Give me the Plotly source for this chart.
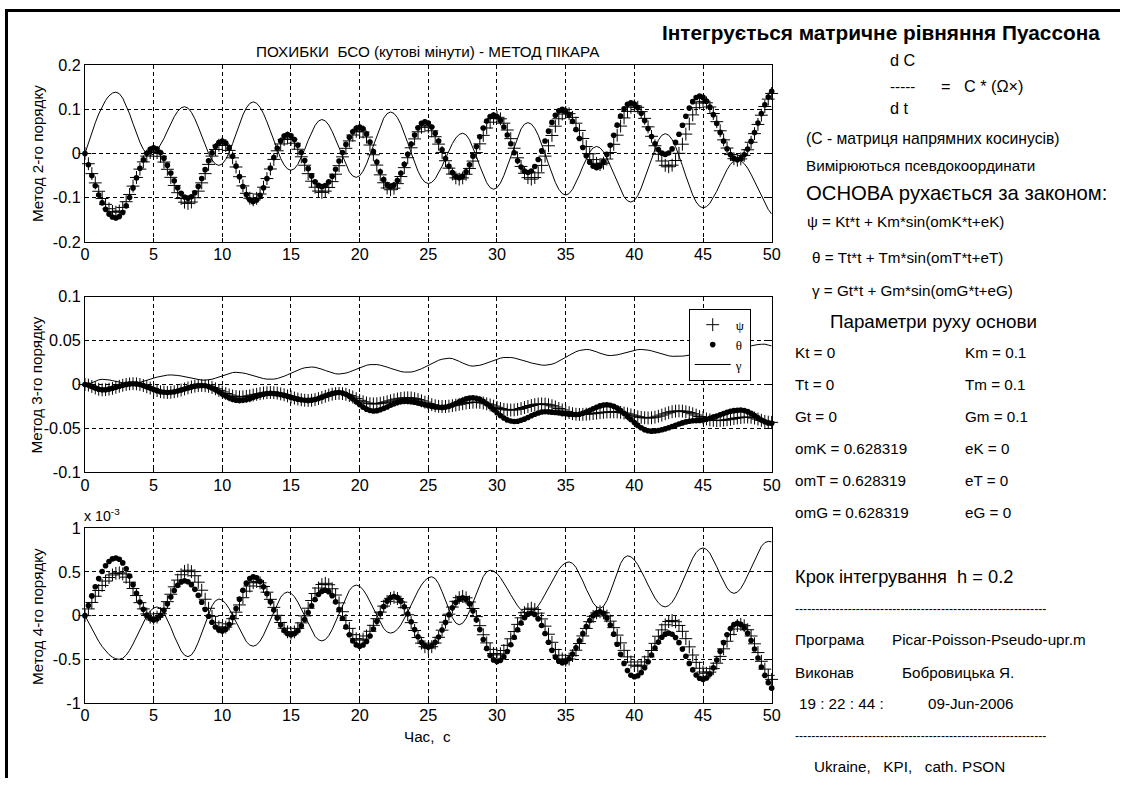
import plotly.graph_objects as go

W, H = 1129, 787

# The photographed page comes out slightly shrunk and shifted relative to the figure's own
# pixels (measured on earlier renders: window = A + B * figure_px).  Positions below are
# given in window pixels of the reference and converted back to figure pixels.
AX, BX = 4.0, 0.988
AY, BY = 8.7, 0.979

STEP = 0.25
T = [round(i * STEP, 2) for i in range(201)]

# ---------------- Data ----------------
TOP_PSI = [
    0, -0.0231, -0.0455, -0.0665, -0.0855, -0.1019, -0.1152, -0.125, -0.131, -0.133, -0.1302, -0.1221, -0.1091, -0.0927, -0.0738, -0.0542, -0.0353, -0.0189, -0.0059, 0.0022,
    0.005, 0.0022, -0.0062, -0.0193, -0.0357, -0.054, -0.0723, -0.0887, -0.1018, -0.1102, -0.113, -0.1098, -0.1002, -0.0852, -0.0664, -0.0455, -0.0246, -0.0058, 0.0092, 0.0188,
    0.022, 0.0182, 0.0071, -0.0098, -0.0305, -0.0525, -0.0733, -0.0901, -0.1012, -0.105, -0.1016, -0.0917, -0.0762, -0.0567, -0.035, -0.0133, 0.0062, 0.0217, 0.0316, 0.035,
    0.032, 0.0233, 0.0097, -0.0074, -0.0265, -0.0456, -0.0627, -0.0763, -0.085, -0.088, -0.0852, -0.0769, -0.0636, -0.0468, -0.0275, -0.0075, 0.0118, 0.0286, 0.0419, 0.0502,
    0.053, 0.0489, 0.0372, 0.0192, -0.0028, -0.0262, -0.0483, -0.0662, -0.078, -0.082, -0.0785, -0.0682, -0.0521, -0.032, -0.0095, 0.013, 0.0331, 0.0492, 0.0595, 0.063,
    0.0601, 0.0515, 0.0381, 0.0213, 0.0025, -0.0163, -0.0331, -0.0465, -0.0551, -0.058, -0.0552, -0.0469, -0.0338, -0.0171, 0.0021, 0.0219, 0.0411, 0.0578, 0.0709, 0.0792,
    0.082, 0.0786, 0.0687, 0.0532, 0.0337, 0.012, -0.0097, -0.0292, -0.0447, -0.0546, -0.058, -0.0544, -0.0437, -0.0269, -0.0059, 0.0175, 0.0409, 0.0619, 0.0787, 0.0894,
    0.093, 0.0902, 0.0818, 0.0687, 0.0523, 0.034, 0.0157, -0.0007, -0.0138, -0.0222, -0.025, -0.0218, -0.0124, 0.0024, 0.0209, 0.0415, 0.0621, 0.0806, 0.0954, 0.1048,
    0.108, 0.1047, 0.0949, 0.0796, 0.0604, 0.039, 0.0176, -0.0016, -0.0169, -0.0267, -0.030, -0.0264, -0.0159, 0.0005, 0.0211, 0.044, 0.0669, 0.0875, 0.1039, 0.1144,
    0.118, 0.1148, 0.1054, 0.0906, 0.0721, 0.0515, 0.0309, 0.0124, -0.0024, -0.0118, -0.015, -0.0122, -0.0042, 0.0086, 0.0255, 0.045, 0.0659, 0.0868, 0.1064, 0.1232,
    0.136,
]
TOP_THETA = [
    0, -0.0254, -0.0499, -0.073, -0.0939, -0.1118, -0.1264, -0.1372, -0.1438, -0.146, -0.1428, -0.1334, -0.1185, -0.0996, -0.0778, -0.0552, -0.0334, -0.0145, 0.0004, 0.0098,
    0.013, 0.0103, 0.0022, -0.0105, -0.0263, -0.044, -0.0617, -0.0775, -0.0902, -0.0983, -0.101, -0.0979, -0.0887, -0.0744, -0.0565, -0.0365, -0.0165, 0.0014, 0.0157, 0.0249,
    0.028, 0.0239, 0.012, -0.0063, -0.0286, -0.0524, -0.0748, -0.093, -0.1049, -0.109, -0.1054, -0.0946, -0.0777, -0.0566, -0.033, -0.0094, 0.0117, 0.0286, 0.0394, 0.043,
    0.0402, 0.0318, 0.0187, 0.0023, -0.016, -0.0343, -0.0507, -0.0638, -0.0722, -0.075, -0.0723, -0.0643, -0.0516, -0.0356, -0.0171, 0.0021, 0.0206, 0.0366, 0.0493, 0.0573,
    0.060, 0.0559, 0.0442, 0.0262, 0.0042, -0.0192, -0.0413, -0.0592, -0.071, -0.075, -0.0715, -0.061, -0.0447, -0.0243, -0.0015, 0.0213, 0.0417, 0.058, 0.0685, 0.072,
    0.069, 0.0599, 0.0458, 0.0282, 0.0085, -0.0112, -0.0288, -0.0429, -0.052, -0.055, -0.0516, -0.0415, -0.0257, -0.006, 0.016, 0.038, 0.0577, 0.0735, 0.0836, 0.087,
    0.0839, 0.0746, 0.0602, 0.0421, 0.022, 0.0018, -0.0162, -0.0307, -0.0399, -0.043, -0.0396, -0.0294, -0.0135, 0.0063, 0.0285, 0.0507, 0.0705, 0.0864, 0.0966, 0.100,
    0.0968, 0.0875, 0.0728, 0.0545, 0.034, 0.0135, -0.0048, -0.0195, -0.0288, -0.032, -0.0285, -0.018, -0.0017, 0.0187, 0.0415, 0.0643, 0.0847, 0.101, 0.1115, 0.115,
    0.1122, 0.1039, 0.0909, 0.0746, 0.0565, 0.0384, 0.0221, 0.0091, 0.0008, -0.002, 0.0012, 0.0105, 0.0252, 0.0435, 0.064, 0.0845, 0.1028, 0.1175, 0.1268, 0.130,
    0.1271, 0.1186, 0.1051, 0.088, 0.0682, 0.0478, 0.028, 0.0109, -0.0026, -0.0111, -0.014, -0.0112, -0.0029, 0.0102, 0.0275, 0.0476, 0.069, 0.0904, 0.1105, 0.1278,
    0.1409,
]
TOP_GAMMA = [
    0, 0.0242, 0.0475, 0.0695, 0.0894, 0.1065, 0.1204, 0.1307, 0.1369, 0.139, 0.1356, 0.1254, 0.1095, 0.0897, 0.0675, 0.0453, 0.0255, 0.0096, -0.0006, -0.004,
    -0.0014, 0.0065, 0.0187, 0.034, 0.051, 0.068, 0.0833, 0.0956, 0.1034, 0.106, 0.1028, 0.0934, 0.0786, 0.0601, 0.0395, 0.0189, 0.0004, -0.0144, -0.0238, -0.027,
    -0.0235, -0.0133, 0.0027, 0.0227, 0.045, 0.0673, 0.0873, 0.1033, 0.1135, 0.117, 0.1139, 0.1048, 0.0902, 0.0717, 0.0505, 0.0285, 0.0073, -0.0112, -0.0258, -0.0349,
    -0.038, -0.0345, -0.0245, -0.0092, 0.0095, 0.0295, 0.0483, 0.0635, 0.0736, 0.077, 0.0739, 0.0646, 0.05, 0.0318, 0.0115, -0.0088, -0.027, -0.0416, -0.0509, -0.054,
    -0.0504, -0.0399, -0.0235, -0.0029, 0.02, 0.0429, 0.0635, 0.0799, 0.0904, 0.094, 0.0908, 0.0812, 0.066, 0.0467, 0.0245, 0.0015, -0.0207, -0.04, -0.0552, -0.0648,
    -0.068, -0.0653, -0.0572, -0.0445, -0.0287, -0.011, 0.0067, 0.0225, 0.0352, 0.0433, 0.046, 0.0422, 0.0311, 0.0142, -0.0065, -0.0285, -0.0493, -0.0661, -0.0772, -0.081,
    -0.0774, -0.0667, -0.0499, -0.0289, -0.0055, 0.0179, 0.0389, 0.0557, 0.0664, 0.070, 0.0667, 0.057, 0.0416, 0.0221, -0.0004, -0.0236, -0.0461, -0.0656, -0.081, -0.0907,
    -0.094, -0.0907, -0.0811, -0.0665, -0.0486, -0.0294, -0.0115, 0.0031, 0.0127, 0.016, 0.013, 0.004, -0.01, -0.0275, -0.047, -0.0665, -0.084, -0.098, -0.107, -0.110,
    -0.1063, -0.0953, -0.0781, -0.0565, -0.0325, -0.0085, 0.0131, 0.0303, 0.0413, 0.045, 0.0416, 0.0317, 0.0159, -0.0041, -0.0271, -0.0509, -0.0739, -0.0939, -0.1097, -0.1196,
    -0.123, -0.1204, -0.1126, -0.1005, -0.0854, -0.0685, -0.0516, -0.0365, -0.0244, -0.0166, -0.014, -0.0162, -0.0228, -0.0332, -0.047, -0.0629, -0.0799, -0.0969, -0.1129, -0.1266,
    -0.137,
]
MID_PSI = [
    0, -0.0006, -0.0021, -0.0039, -0.0054, -0.006, -0.0058, -0.0052, -0.0043, -0.0031, -0.0019, -0.0008, 0.0002, 0.0008, 0.001, 0.0008, 0.0001, -0.0011, -0.0025, -0.004,
    -0.0056, -0.0069, -0.0081, -0.0088, -0.009, -0.0088, -0.0082, -0.0074, -0.0062, -0.005, -0.0038, -0.0027, -0.0018, -0.0012, -0.001, -0.0013, -0.002, -0.0033, -0.0048, -0.0066,
    -0.0084, -0.0102, -0.0118, -0.013, -0.0137, -0.014, -0.0139, -0.0134, -0.0128, -0.0119, -0.0111, -0.0103, -0.0096, -0.0092, -0.009, -0.0092, -0.0097, -0.0106, -0.0116, -0.0129,
    -0.0141, -0.0154, -0.0164, -0.0173, -0.0178, -0.018, -0.0178, -0.0171, -0.016, -0.0147, -0.0133, -0.012, -0.0109, -0.0102, -0.010, -0.0103, -0.0111, -0.0125, -0.0141, -0.016,
    -0.0179, -0.0195, -0.0209, -0.0217, -0.022, -0.0218, -0.0213, -0.0206, -0.0196, -0.0185, -0.0174, -0.0164, -0.0157, -0.0152, -0.015, -0.0152, -0.016, -0.0171, -0.0185, -0.020,
    -0.0216, -0.0229, -0.0241, -0.0248, -0.025, -0.0249, -0.0245, -0.024, -0.0233, -0.0225, -0.0217, -0.021, -0.0205, -0.0201, -0.020, -0.0202, -0.0209, -0.0219, -0.0231, -0.0245,
    -0.0259, -0.0272, -0.0282, -0.0288, -0.029, -0.0288, -0.0282, -0.0273, -0.0261, -0.0249, -0.0238, -0.0228, -0.0222, -0.022, -0.0222, -0.023, -0.0241, -0.0255, -0.0272, -0.0289,
    -0.0305, -0.0319, -0.0331, -0.0338, -0.034, -0.0339, -0.0337, -0.0334, -0.033, -0.0325, -0.032, -0.0316, -0.0313, -0.0311, -0.031, -0.0312, -0.0317, -0.0324, -0.0334, -0.0345,
    -0.0356, -0.0366, -0.0373, -0.0378, -0.038, -0.0378, -0.0371, -0.036, -0.0347, -0.0333, -0.032, -0.0309, -0.0302, -0.030, -0.0302, -0.0309, -0.0319, -0.0332, -0.0347, -0.0363,
    -0.0378, -0.0391, -0.0401, -0.0408, -0.041, -0.0409, -0.0405, -0.040, -0.0394, -0.0387, -0.038, -0.0375, -0.0371, -0.037, -0.0373, -0.0381, -0.0393, -0.0407, -0.0419, -0.0427,
    -0.043,
]
MID_THETA = [
    0, -0.0006, -0.0021, -0.0039, -0.0054, -0.006, -0.0058, -0.0052, -0.0043, -0.0031, -0.0019, -0.0008, 0.0002, 0.0008, 0.001, 0.0008, 0.0001, -0.0011, -0.0025, -0.004,
    -0.0056, -0.0069, -0.0081, -0.0088, -0.009, -0.0088, -0.0082, -0.0074, -0.0062, -0.005, -0.0038, -0.0027, -0.0018, -0.0012, -0.001, -0.0013, -0.0023, -0.0039, -0.006, -0.0083,
    -0.0107, -0.013, -0.0151, -0.0167, -0.0177, -0.018, -0.0178, -0.0171, -0.016, -0.0147, -0.0133, -0.012, -0.0109, -0.0102, -0.010, -0.0102, -0.0106, -0.0114, -0.0123, -0.0134,
    -0.0146, -0.0157, -0.0166, -0.0174, -0.0178, -0.018, -0.0177, -0.017, -0.0158, -0.0143, -0.0127, -0.0113, -0.0101, -0.0093, -0.009, -0.0095, -0.011, -0.0133, -0.0163, -0.0195,
    -0.0228, -0.0257, -0.028, -0.0295, -0.030, -0.0297, -0.0287, -0.0273, -0.0255, -0.0235, -0.0218, -0.0203, -0.0193, -0.019, -0.0191, -0.0196, -0.0202, -0.021, -0.022, -0.023,
    -0.024, -0.0248, -0.0255, -0.0259, -0.026, -0.0257, -0.0247, -0.0233, -0.0215, -0.0195, -0.0178, -0.0163, -0.0153, -0.015, -0.0155, -0.0168, -0.0189, -0.0218, -0.025, -0.0285,
    -0.032, -0.0353, -0.0381, -0.0402, -0.0415, -0.042, -0.0417, -0.0407, -0.0393, -0.0375, -0.0355, -0.0338, -0.0323, -0.0313, -0.031, -0.0311, -0.0314, -0.0318, -0.0322, -0.0328,
    -0.0333, -0.0337, -0.0339, -0.034, -0.0337, -0.0327, -0.0313, -0.0295, -0.0275, -0.0258, -0.0243, -0.0233, -0.023, -0.0235, -0.0247, -0.0268, -0.0295, -0.0327, -0.0362, -0.0398,
    -0.0433, -0.0465, -0.0492, -0.0513, -0.0526, -0.053, -0.0528, -0.0523, -0.0515, -0.0504, -0.0491, -0.0477, -0.0463, -0.0449, -0.0436, -0.0425, -0.0417, -0.0412, -0.041, -0.0408,
    -0.0403, -0.0395, -0.0384, -0.0371, -0.0357, -0.0343, -0.0329, -0.0316, -0.0305, -0.0297, -0.0292, -0.029, -0.0295, -0.0308, -0.0328, -0.0352, -0.0378, -0.0403, -0.0423, -0.0436,
    -0.044,
]
MID_GAMMA = [
    0, 0.0006, 0.0021, 0.0039, 0.0054, 0.006, 0.0058, 0.0053, 0.0045, 0.0035, 0.0026, 0.0017, 0.0012, 0.001, 0.0012, 0.0017, 0.0025, 0.0035, 0.0047, 0.006,
    0.0073, 0.0085, 0.0095, 0.0103, 0.0108, 0.011, 0.0109, 0.0104, 0.0098, 0.0089, 0.008, 0.0071, 0.0062, 0.0056, 0.0051, 0.005, 0.0053, 0.0061, 0.0073, 0.0087,
    0.0103, 0.0118, 0.013, 0.0137, 0.014, 0.0138, 0.0132, 0.0124, 0.0112, 0.010, 0.0088, 0.0077, 0.0068, 0.0062, 0.006, 0.0062, 0.0069, 0.008, 0.0095, 0.0112,
    0.013, 0.0148, 0.0165, 0.018, 0.0191, 0.0198, 0.020, 0.0197, 0.0188, 0.0175, 0.016, 0.0145, 0.0132, 0.0123, 0.012, 0.0123, 0.0131, 0.0143, 0.0158, 0.0175,
    0.0192, 0.0207, 0.022, 0.0227, 0.023, 0.0228, 0.0221, 0.0212, 0.0199, 0.0185, 0.0171, 0.0159, 0.0149, 0.0142, 0.014, 0.0143, 0.0151, 0.0163, 0.018, 0.0199,
    0.022, 0.0241, 0.026, 0.0277, 0.0289, 0.0297, 0.030, 0.0296, 0.0283, 0.0265, 0.0245, 0.0227, 0.0215, 0.021, 0.0212, 0.022, 0.0231, 0.0245, 0.026, 0.0276,
    0.0289, 0.0301, 0.0308, 0.031, 0.0308, 0.0303, 0.0294, 0.0284, 0.0271, 0.0259, 0.0246, 0.0236, 0.0227, 0.0222, 0.022, 0.0223, 0.0232, 0.0246, 0.0265, 0.0287,
    0.031, 0.0333, 0.0355, 0.0374, 0.0388, 0.0397, 0.040, 0.0397, 0.0387, 0.0373, 0.0357, 0.0343, 0.0334, 0.033, 0.0332, 0.0338, 0.0348, 0.0359, 0.0371, 0.0383,
    0.0392, 0.0398, 0.040, 0.0398, 0.0392, 0.0384, 0.0372, 0.036, 0.0348, 0.0337, 0.0328, 0.0322, 0.032, 0.0321, 0.0324, 0.0329, 0.0335, 0.0342, 0.035, 0.0358,
    0.0365, 0.0371, 0.0376, 0.0379, 0.038, 0.0381, 0.0384, 0.0389, 0.0395, 0.0403, 0.0411, 0.042, 0.0429, 0.0437, 0.0445, 0.0451, 0.0456, 0.0459, 0.046, 0.045,
    0.044,
]
BOT_PSI = [
    0, 0.077, 0.151, 0.222, 0.288, 0.346, 0.396, 0.437, 0.466, 0.484, 0.49, 0.4775, 0.4406, 0.383, 0.311, 0.23, 0.149, 0.077, 0.019, -0.0175,
    -0.03, -0.0168, 0.0223, 0.083, 0.16, 0.245, 0.33, 0.407, 0.468, 0.507, 0.52, 0.504, 0.457, 0.383, 0.291, 0.1875, 0.084, -0.008, -0.082, -0.129,
    -0.145, -0.132, -0.094, -0.035, 0.04, 0.1225, 0.205, 0.28, 0.339, 0.377, 0.39, 0.376, 0.334, 0.2685, 0.1865, 0.095, 0.0035, -0.0785, -0.144, -0.186,
    -0.20, -0.186, -0.146, -0.083, -0.003, 0.085, 0.173, 0.253, 0.316, 0.356, 0.37, 0.354, 0.308, 0.236, 0.146, 0.045, -0.056, -0.146, -0.218, -0.264,
    -0.28, -0.268, -0.233, -0.179, -0.111, -0.035, 0.041, 0.109, 0.163, 0.198, 0.21, 0.196, 0.155, 0.091, 0.01, -0.08, -0.17, -0.251, -0.315, -0.356,
    -0.37, -0.356, -0.314, -0.2485, -0.1665, -0.075, 0.0165, 0.0985, 0.164, 0.206, 0.22, 0.204, 0.156, 0.082, -0.011, -0.115, -0.219, -0.312, -0.386, -0.434,
    -0.45, -0.437, -0.399, -0.34, -0.265, -0.1825, -0.10, -0.025, 0.034, 0.072, 0.085, 0.0707, 0.0285, -0.0376, -0.1203, -0.2125, -0.305, -0.3874, -0.453, -0.496,
    -0.51, -0.4967, -0.4573, -0.396, -0.319, -0.2325, -0.1465, -0.069, -0.008, 0.032, 0.045, 0.0325, -0.0044, -0.063, -0.1375, -0.223, -0.312, -0.3975, -0.472, -0.531,
    -0.5675, -0.58, -0.5674, -0.530, -0.472, -0.399, -0.3175, -0.236, -0.163, -0.105, -0.068, -0.055, -0.0695, -0.1125, -0.1796, -0.2637, -0.3575, -0.451, -0.535, -0.6025,
    -0.6455, -0.66, -0.6466, -0.6068, -0.5446, -0.4668, -0.38, -0.2932, -0.2154, -0.1532, -0.1134, -0.10, -0.1155, -0.1613, -0.233, -0.3227, -0.4228, -0.5228, -0.6125, -0.6842,
    -0.73,
]
BOT_THETA = [
    0, 0.115, 0.226, 0.33, 0.424, 0.506, 0.572, 0.620, 0.650, 0.66, 0.646, 0.604, 0.537, 0.453, 0.355, 0.255, 0.157, 0.073, 0.006, -0.036,
    -0.05, -0.0365, 0.003, 0.0625, 0.136, 0.214, 0.2875, 0.347, 0.3865, 0.40, 0.3885, 0.355, 0.301, 0.232, 0.153, 0.072, -0.007, -0.076, -0.13, -0.1635,
    -0.175, -0.156, -0.1025, -0.02, 0.081, 0.189, 0.29, 0.372, 0.426, 0.445, 0.432, 0.3925, 0.33, 0.251, 0.16, 0.065, -0.026, -0.105, -0.167, -0.207,
    -0.22, -0.208, -0.1715, -0.115, -0.044, 0.035, 0.114, 0.185, 0.2416, 0.278, 0.29, 0.2746, 0.229, 0.158, 0.069, -0.03, -0.129, -0.218, -0.289, -0.335,
    -0.35, -0.336, -0.296, -0.233, -0.153, -0.065, 0.023, 0.103, 0.166, 0.206, 0.22, 0.206, 0.165, 0.101, 0.02, -0.07, -0.16, -0.241, -0.305, -0.346,
    -0.36, -0.346, -0.306, -0.244, -0.165, -0.0775, 0.01, 0.089, 0.151, 0.191, 0.205, 0.1875, 0.136, 0.055, -0.047, -0.16, -0.273, -0.375, -0.456, -0.507,
    -0.525, -0.512, -0.472, -0.411, -0.334, -0.2475, -0.1615, -0.084, -0.023, 0.017, 0.03, 0.013, -0.037, -0.1125, -0.205, -0.305, -0.3975, -0.473, -0.523, -0.54,
    -0.528, -0.494, -0.439, -0.369, -0.289, -0.206, -0.126, -0.056, -0.001, 0.033, 0.045, 0.027, -0.026, -0.108, -0.212, -0.3275, -0.443, -0.547, -0.629, -0.682,
    -0.70, -0.688, -0.6525, -0.597, -0.5275, -0.45, -0.3725, -0.303, -0.2475, -0.212, -0.20, -0.2127, -0.2504, -0.309, -0.383, -0.465, -0.547, -0.621, -0.68, -0.717,
    -0.73, -0.7146, -0.669, -0.5975, -0.508, -0.4085, -0.309, -0.2195, -0.148, -0.1025, -0.087, -0.1005, -0.1403, -0.203, -0.286, -0.382, -0.485, -0.588, -0.684, -0.767,
    -0.83,
]
BOT_GAMMA = [
    0, -0.078, -0.1545, -0.227, -0.294, -0.3535, -0.4045, -0.4455, -0.4755, -0.494, -0.50, -0.488, -0.4526, -0.3962, -0.3248, -0.2426, -0.1574, -0.0752, -0.0038, 0.0526,
    0.088, 0.10, 0.0829, 0.0333, -0.0425, -0.1354, -0.2346, -0.3275, -0.4033, -0.4529, -0.47, -0.4502, -0.3928, -0.305, -0.1974, -0.0826, 0.025, 0.1128, 0.1702, 0.19,
    0.177, 0.1387, 0.0788, 0.0037, -0.08, -0.1637, -0.2388, -0.2987, -0.337, -0.35, -0.3351, -0.2911, -0.2223, -0.1361, -0.04, 0.0561, 0.1423, 0.2111, 0.2551, 0.27,
    0.2566, 0.2168, 0.1546, 0.0768, -0.01, -0.0968, -0.1746, -0.2368, -0.2766, -0.29, -0.2746, -0.2292, -0.1582, -0.0692, 0.03, 0.1292, 0.2182, 0.2892, 0.3346, 0.35,
    0.3368, 0.2977, 0.2367, 0.1602, 0.075, -0.0103, -0.0867, -0.1478, -0.1868, -0.20, -0.189, -0.1568, -0.1058, -0.0387, 0.0393, 0.1225, 0.2057, 0.2838, 0.3508, 0.4018,
    0.434, 0.445, 0.4241, 0.3647, 0.275, 0.17, 0.065, -0.0247, -0.0841, -0.105, -0.0862, -0.0319, 0.0513, 0.1531, 0.2619, 0.3638, 0.4469, 0.5013, 0.52, 0.5101,
    0.481, 0.4347, 0.376, 0.3085, 0.2385, 0.171, 0.1123, 0.0659, 0.0369, 0.027, 0.037, 0.0664, 0.1128, 0.174, 0.2451, 0.321, 0.3969, 0.468, 0.5292, 0.5756,
    0.605, 0.615, 0.5991, 0.5529, 0.4822, 0.3957, 0.3033, 0.2167, 0.1461, 0.0999, 0.084, 0.1068, 0.1717, 0.2697, 0.3845, 0.4993, 0.5973, 0.6622, 0.685, 0.6733,
    0.6388, 0.5838, 0.5142, 0.434, 0.351, 0.2708, 0.2012, 0.1462, 0.1117, 0.10, 0.1135, 0.1533, 0.2168, 0.2971, 0.3896, 0.4854, 0.5779, 0.6582, 0.7217, 0.7615,
    0.775, 0.7594, 0.7142, 0.645, 0.5602, 0.4698, 0.385, 0.3158, 0.2706, 0.255, 0.2693, 0.3115, 0.3776, 0.4603, 0.5525, 0.6447, 0.7274, 0.7935, 0.8357, 0.85,
    0.845,
]

X_TICKS = [0, 5, 10, 15, 20, 25, 30, 35, 40, 45, 50]
Y_TICKS_TOP = [-0.2, -0.1, 0, 0.1, 0.2]
Y_LABELS_TOP = ["-0.2", "-0.1", "0", "0.1", "0.2"]
Y_TICKS_MID = [-0.1, -0.05, 0, 0.05, 0.1]
Y_LABELS_MID = ["-0.1", "-0.05", "0", "0.05", "0.1"]
Y_TICKS_BOT = [-1, -0.5, 0, 0.5, 1]
Y_LABELS_BOT = ["-1", "-0.5", "0", "0.5", "1"]

for name, arr in [("TOP_PSI", TOP_PSI), ("TOP_THETA", TOP_THETA), ("TOP_GAMMA", TOP_GAMMA),
                  ("MID_PSI", MID_PSI), ("MID_THETA", MID_THETA), ("MID_GAMMA", MID_GAMMA),
                  ("BOT_PSI", BOT_PSI), ("BOT_THETA", BOT_THETA), ("BOT_GAMMA", BOT_GAMMA)]:
    assert len(arr) == len(T), f"{name} has {len(arr)} values"

# ---------------- Figure ----------------
FONT = "Liberation Sans, Arial, sans-serif"
SERIF = "Liberation Serif, Times New Roman, serif"
FS = 1.015  # font compensation for the slight shrink


def px(x):
    """reference window pixel x -> paper fraction"""
    return (x - AX) / BX / W


def py(y):
    """reference window pixel y -> paper fraction"""
    return 1 - (y - AY) / BY / H


fig = go.Figure()
panels = [
    ("x", "y", TOP_PSI, TOP_THETA, TOP_GAMMA, False),
    ("x2", "y2", MID_PSI, MID_THETA, MID_GAMMA, True),
    ("x3", "y3", BOT_PSI, BOT_THETA, BOT_GAMMA, False),
]
for xa, ya, psi, theta, gamma, legend in panels:
    fig.add_trace(go.Scatter(x=T, y=psi, xaxis=xa, yaxis=ya, mode="markers", name="ψ", showlegend=legend,
                             cliponaxis=False,
                             marker=dict(symbol="cross-thin", size=9.2, color="black", line=dict(color="black", width=1))))
    fig.add_trace(go.Scatter(x=T, y=theta, xaxis=xa, yaxis=ya, mode="markers", name="θ", showlegend=legend,
                             cliponaxis=False,
                             marker=dict(symbol="circle", size=5.6, color="black", line=dict(width=0))))
    fig.add_trace(go.Scatter(x=T, y=gamma, xaxis=xa, yaxis=ya, mode="lines", name="γ", showlegend=legend,
                             line=dict(color="black", width=1)))

XD = [px(84), px(771)]
common_x = dict(range=[0, 50], tickvals=X_TICKS, ticktext=[str(v) for v in X_TICKS],
                showgrid=True, gridcolor="black", gridwidth=1, griddash="4px,3px",
                showline=True, linecolor="black", linewidth=1, mirror="ticks",
                ticks="inside", ticklen=4, tickcolor="black", zeroline=False,
                ticklabelstandoff=-2,
                tickfont=dict(family=FONT, size=16 * FS, color="black"), domain=XD, fixedrange=True)
common_y = dict(showgrid=True, gridcolor="black", gridwidth=1, griddash="4px,3px",
                showline=True, linecolor="black", linewidth=1, mirror="ticks",
                ticks="inside", ticklen=4, tickcolor="black", zeroline=False,
                ticklabelstandoff=0,
                tickfont=dict(family=FONT, size=16 * FS, color="black"), fixedrange=True)

fig.update_layout(
    width=W, height=H, autosize=False,
    margin=dict(l=0, r=0, t=0, b=0, pad=0),
    paper_bgcolor="white", plot_bgcolor="white",
    font=dict(family=FONT, size=15, color="black"),
    xaxis=dict(common_x, anchor="y"),
    yaxis=dict(common_y, anchor="x", range=[-0.2, 0.2], tickvals=Y_TICKS_TOP, ticktext=Y_LABELS_TOP,
               domain=[py(242), py(65)]),
    xaxis2=dict(common_x, anchor="y2"),
    yaxis2=dict(common_y, anchor="x2", range=[-0.1, 0.1], tickvals=Y_TICKS_MID, ticktext=Y_LABELS_MID,
                domain=[py(473), py(297)]),
    xaxis3=dict(common_x, anchor="y3"),
    yaxis3=dict(common_y, anchor="x3", range=[-1, 1], tickvals=Y_TICKS_BOT, ticktext=Y_LABELS_BOT,
                domain=[py(704), py(529)]),
    legend=dict(x=px(688), y=py(309), xanchor="left", yanchor="top",
                bgcolor="white", bordercolor="black", borderwidth=1,
                font=dict(family=SERIF, size=13, color="black"), tracegroupgap=0, itemwidth=36),
    showlegend=True,
)

NB = "\u00a0"
ann = []
LEFT_PAD = 3  # plotly insets left-anchored annotation text by a few pixels


def text(x, y, s, size=15, anchor="left", bold=False, angle=0, family=FONT):
    if anchor == "left":
        x = x - LEFT_PAD
    ann.append(dict(x=px(x), y=py(y), xref="paper", yref="paper", text=("<b>%s</b>" % s) if bold else s,
                    showarrow=False, xanchor=anchor, yanchor="middle", textangle=angle,
                    font=dict(family=family, size=size * FS, color="black")))


# panel labels
text(427, 51, "ПОХИБКИ" + NB * 2 + "БСО (кутові мінути) - МЕТОД ПІКАРА", 15, "center")
text(36, 153, "Метод 2-го порядку", 15, "center", angle=-90)
text(36, 385, "Метод 3-го порядку", 15, "center", angle=-90)
text(36, 617, "Метод 4-го порядку", 15, "center", angle=-90)
text(84, 516, "x 10<sup>-3</sup>", 14, "left")
text(427, 738, "Час," + NB * 2 + "c", 15, "center")

# right-hand panel
text(880, 32, "Інтегрується матричне рівняння Пуассона", 20.5, "center", bold=True)
text(890, 60, "d C", 16)
text(890, 86, "-----", 15)
text(941, 86, "=" + NB * 3 + "C * (Ω×)", 16)
text(890, 108, "d t", 16)
text(806, 138, "(С - матриця напрямних косинусів)", 15.5)
text(806, 165, "Вимірюються псевдокоординати", 15)
text(806, 193, "ОСНОВА рухається за законом:", 20)
text(807, 222, "ψ = Kt*t + Km*sin(omK*t+eK)", 15)
text(812, 258, "θ = Tt*t + Tm*sin(omT*t+eT)", 15)
text(812, 291, "γ = Gt*t + Gm*sin(omG*t+eG)", 15)
text(933, 322, "Параметри руху основи", 18.5, "center")

PARAM_LEFT = ["Kt = 0", "Tt = 0", "Gt = 0", "omK = 0.628319", "omT = 0.628319", "omG = 0.628319"]
PARAM_RIGHT = ["Km = 0.1", "Tm = 0.1", "Gm = 0.1", "eK = 0", "eT = 0", "eG = 0"]
PARAM_Y = [353, 385, 417, 449, 481, 513]
for yy, a, b in zip(PARAM_Y, PARAM_LEFT, PARAM_RIGHT):
    text(795, yy, a, 15)
    text(965, yy, b, 15)

text(795, 577, "Крок інтегрування" + NB * 2 + "h = 0.2", 18)
DASHES = "-" * 62
text(795, 610, DASHES, 12)
text(795, 640, "Програма", 15)
text(892, 640, "Picar-Poisson-Pseudo-upr.m", 15)
text(795, 673, "Виконав", 15)
text(902, 673, "Бобровицька Я.", 15)
text(799, 705, "19 : 22 : 44 :", 15)
text(928, 705, "09-Jun-2006", 15)
text(795, 737, DASHES, 12)
text(814, 768, "Ukraine," + NB * 3 + "KPI," + NB * 3 + "cath. PSON", 15)

fig.update_layout(annotations=ann)

# outer frame (left and top edges of the window)
fig.update_layout(shapes=[
    dict(type="line", xref="paper", yref="paper", x0=px(5.5), x1=px(5.5), y0=0, y1=1,
         line=dict(color="black", width=3)),
    dict(type="line", xref="paper", yref="paper", x0=px(4), x1=1, y0=1 - 1.5 / H, y1=1 - 1.5 / H,
         line=dict(color="black", width=3)),
])

fig.write_html("out.html", config={"displayModeBar": False, "responsive": False})
